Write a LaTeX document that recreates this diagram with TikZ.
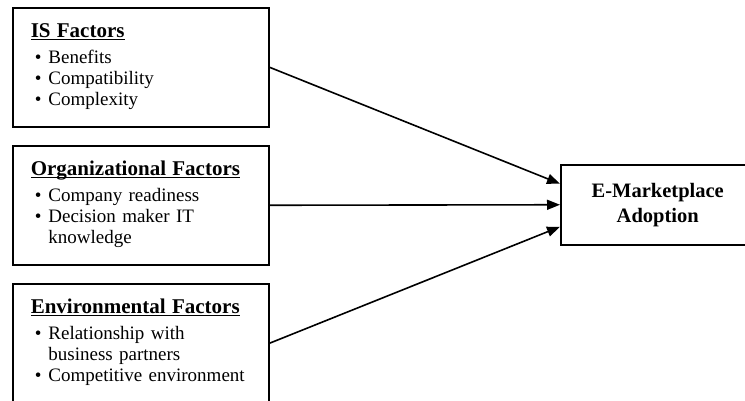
\documentclass[tikz,border=0pt]{standalone}
\usepackage{fontspec}
\setmainfont{Liberation Serif}
\usetikzlibrary{arrows.meta}

% heading of a factor box: bold and underlined
\newsavebox{\headbox}
\newcommand{\facthead}[1]{{\fontsize{21}{22}\selectfont
    \sbox{\headbox}{\textbf{#1}}\rlap{\usebox{\headbox}}\rule[-3pt]{\wd\headbox}{1.6pt}}}

\tikzset{
    factor/.style={draw, line width=1.5pt, anchor=north west, minimum height=119pt,
        text width=220pt, inner xsep=18pt, align=left,
        font=\fontsize{19}{21.2}\selectfont},
    outcome/.style={draw, line width=1.5pt, anchor=north west, minimum width=194pt,
        minimum height=80pt, align=center, font=\fontsize{20.5}{25}\selectfont\bfseries},
    link/.style={line width=1.6pt, -{Triangle[length=13pt,width=10pt]}}
}

\begin{document}
\begin{tikzpicture}[x=1pt, y=-1pt]
    \useasboundingbox (0,0) rectangle (745,400);
    \clip (0,0) rectangle (745,400);
    % Factor boxes
    \node[factor] (is) at (12,7) {%
        \begin{tabular}{@{}l@{\hspace{7pt}}l@{}}
        \multicolumn{2}{@{}l}{\facthead{IS Factors}}\\[5pt]
        \hspace{4pt}\textbullet & Benefits\\
        \hspace{4pt}\textbullet & Compatibility\\
        \hspace{4pt}\textbullet & Complexity
        \end{tabular}};
    \node[factor] (org) at (12,145) {%
        \begin{tabular}{@{}l@{\hspace{7pt}}l@{}}
        \multicolumn{2}{@{}l}{\facthead{Organizational Factors}}\\[5pt]
        \hspace{4pt}\textbullet & Company readiness\\
        \hspace{4pt}\textbullet & Decision maker IT\\
                                & knowledge
        \end{tabular}};
    \node[factor] (env) at (12,283) {%
        \begin{tabular}{@{}l@{\hspace{7pt}}l@{}}
        \multicolumn{2}{@{}l}{\facthead{Environmental Factors}}\\[5pt]
        \hspace{4pt}\textbullet & Relationship with\\
                                & business partners\\
        \hspace{4pt}\textbullet & Competitive environment
        \end{tabular}};
    % Outcome
    \node[outcome] (adopt) at (560,164) {E-Marketplace\\Adoption};
    % Arrows
    \draw[link] (is.east) -- ([yshift=21pt]adopt.west);
    \draw[link] (org.east) -- (adopt.west);
    \draw[link] (env.east) -- ([yshift=-22pt]adopt.west);
\end{tikzpicture}
\end{document}
